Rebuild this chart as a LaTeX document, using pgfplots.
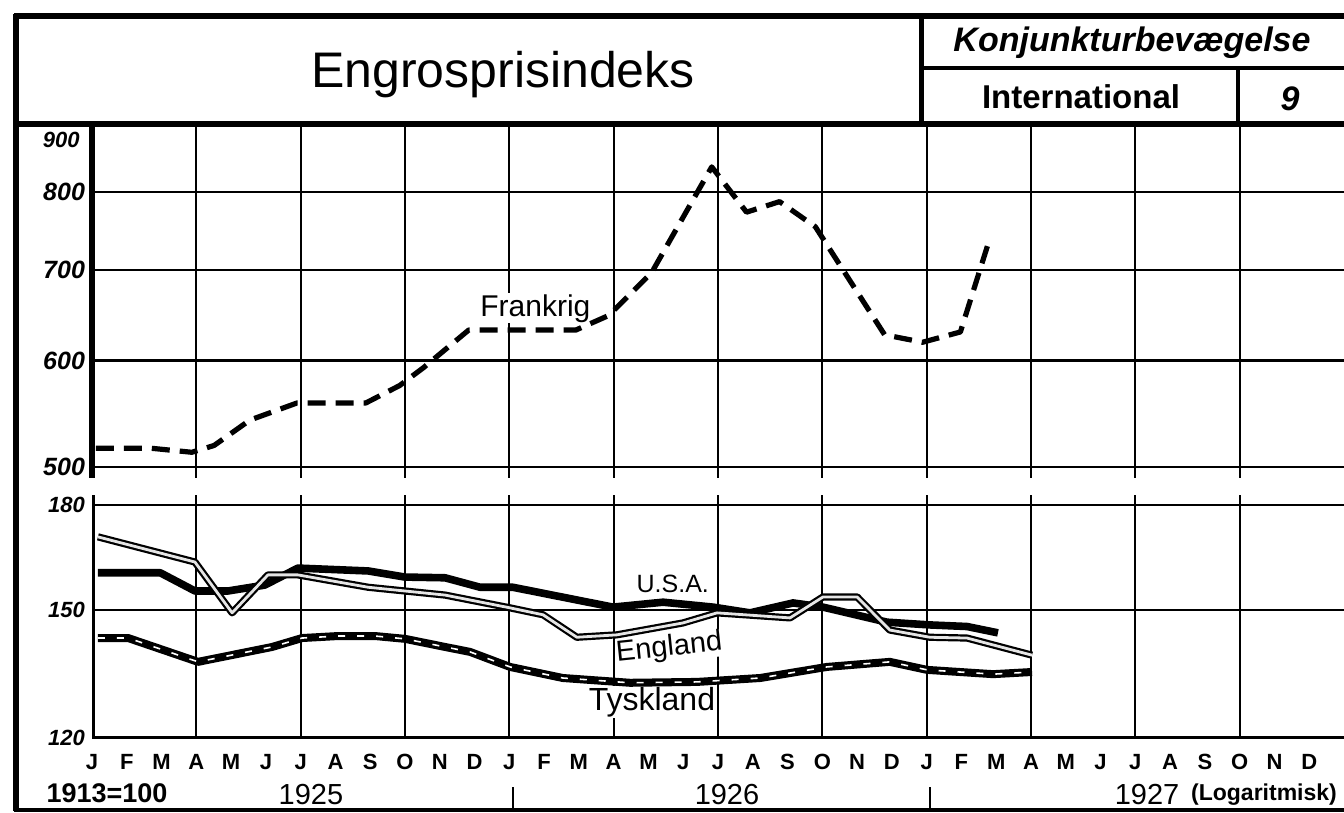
\documentclass[border=0pt]{standalone}
\usepackage{pgfplots}
\pgfplotsset{compat=1.18}
\usepackage{pgfplotstable}
\usepackage{fontspec}
\setmainfont{Liberation Sans}

\pgfplotstableread{
m v
0.11 516.5
1.72 516.5
2.87 513
3.51 519
4.54 542
5.89 558
7.87 558
8.85 575
9.54 593
10.83 632
13.91 632
14.86 648
16.09 697
17.82 835
18.82 773
19.77 787
20.80 754
22.79 627
23.88 619
24.97 630
25.83 741
}\frankrig

\pgfplotstableread{
m v
0.17 160
1.96 160
2.96 155
3.91 155
4.97 156.6
5.92 161.3
7.94 160.5
9.00 158.8
10.15 158.6
11.16 156
12.10 156
14.98 150.7
16.42 152
17.86 150.7
18.92 149.2
20.16 151.8
21.02 150.7
22.86 146.8
24.09 146.1
25.16 145.7
26.05 144.1
}\usa

\pgfplotstableread{
m v
0.17 170.3
2.96 163
4.03 149.2
5.06 159.4
5.92 159.4
7.94 156
10.15 153.9
12.02 150.5
12.97 148.7
13.94 143
15.09 143.6
16.99 146.6
17.97 149.2
20.07 147.9
21.02 153.4
22.00 153.4
22.94 144.8
24.09 143
25.16 142.8
27.03 138.6
}\england

\pgfplotstableread{
m v
0.17 142.8
1.04 142.8
3.05 137
5.18 140.6
6.04 142.8
7.07 143.3
8.14 143.3
9.00 142.6
10.15 140.6
10.87 139.4
12.02 135.8
13.54 133.2
15.47 132.1
17.40 132.3
19.21 133.2
21.13 135.8
22.94 137
24.01 135.1
25.91 134.1
27.03 134.6
}\tyskland

\begin{document}
\begin{tikzpicture}
\path[use as bounding box] (0,0) rectangle (672pt,-406.5pt);

\begin{scope}[x=0.5pt,y=-0.5pt]
  \draw[line width=3pt] (14,16) -- (1344,16);
  \draw[line width=2.6pt] (16,14) -- (16,811);
  \draw[line width=2pt] (14,810) -- (1344,810);
  \draw[line width=2.6pt] (14,124) -- (1344,124);
  \draw[line width=2.5pt] (921,16) -- (921,124);
  \draw[line width=2.2pt] (921,68) -- (1344,68);
  \draw[line width=2pt] (1238,68) -- (1238,124);
  \draw[line width=1pt] (513,787) -- (513,810);
  \draw[line width=1pt] (930,787) -- (930,810);
  \node[font=\fontsize{25}{25}\selectfont] at (503,75) {Engrosprisindeks};
  \node[font=\bfseries\itshape\fontsize{17}{17}\selectfont] at (1132,43) {Konjunkturbevægelse};
  \node[font=\bfseries\fontsize{16.5}{16.5}\selectfont] at (1081,97) {International};
  \node[font=\bfseries\itshape\fontsize{17}{17}\selectfont] at (1290,99) {9};
  \node[font=\bfseries\fontsize{13.5}{13.5}\selectfont] at (107,793) {1913=100};
  \node[font=\fontsize{14.5}{14.5}\selectfont] at (311,795) {1925};
  \node[font=\fontsize{14.5}{14.5}\selectfont] at (727,795) {1926};
  \node[font=\fontsize{14.5}{14.5}\selectfont] at (1147,795) {1927};
  \node[font=\bfseries\fontsize{11.5}{11.5}\selectfont] at (1264,795) {(Logaritmisk)};
\end{scope}

% top panel: Frankrig
\begin{axis}[at={(46pt,-61.5pt)}, anchor=north west,
  scale only axis, width=626pt, height=177.5pt,
  xmin=0, xmax=36, ymode=log, ymin=491, ymax=900,
  clip=false,
  axis line style={draw=none},
  major tick length=0pt, minor tick length=0pt,
  yminorticks=false, xminorticks=false,
  grid style={black, line width=1.1pt},
  ymajorgrids=true, xmajorgrids=true,
  ytick={500,600,700,800}, yticklabels={500,600,700,800},
  yticklabel style={font=\bfseries\itshape\fontsize{12.5}{12.5}\selectfont},
  xtick={3,6,...,33}, xticklabels={},
]
  \draw[line width=3pt] (rel axis cs:0,0) -- (rel axis cs:0,1);
  \node[anchor=east, inner sep=0pt, font=\bfseries\itshape\fontsize{11}{11}\selectfont]
    at ([xshift=-6pt,yshift=-8.5pt]rel axis cs:0,1) {900};
  \node[fill=white, inner sep=0.5pt, font=\fontsize{15}{15}\selectfont] at (axis cs:12.75,656) {Frankrig};
  \addplot[black, line width=2.6pt, dash pattern=on 9pt off 5pt, line join=round] table {\frankrig};
\end{axis}

% bottom panel
\begin{axis}[at={(46pt,-247.5pt)}, anchor=north west,
  scale only axis, width=626pt, height=121.5pt,
  xmin=0, xmax=36, ymode=log, ymin=120, ymax=183.2,
  axis line style={draw=none},
  major tick length=0pt, minor tick length=0pt,
  yminorticks=false, xminorticks=false,
  grid style={black, line width=1.1pt},
  ymajorgrids=true, xmajorgrids=false,
  ytick={120,150,180}, yticklabels={120,150,180},
  yticklabel style={font=\bfseries\itshape\fontsize{11}{11}\selectfont},
  xtick={0,...,35},
  xticklabels={J,F,M,A,M,J,J,A,S,O,N,D,J,F,M,A,M,J,J,A,S,O,N,D,J,F,M,A,M,J,J,A,S,O,N,D},
  xticklabel style={font=\bfseries\fontsize{11}{11}\selectfont, anchor=center, yshift=-12pt},
  extra x ticks={3,6,...,33}, extra x tick labels={},
  extra x tick style={xmajorgrids=true},
]
  \draw[line width=3pt] (rel axis cs:0,0) -- (rel axis cs:0,1);
  \draw[line width=2pt] (rel axis cs:0,0) -- (rel axis cs:1,0);
  \node[fill=white, inner sep=0.5pt, font=\fontsize{12.5}{12.5}\selectfont] at (axis cs:16.7,156.8) {U.S.A.};
  \node[fill=white, inner sep=0pt, rotate=6, font=\fontsize{14.5}{14.5}\selectfont] at (axis cs:16.6,140.3) {England};
  \node[fill=white, inner sep=0.5pt, font=\fontsize{16}{16}\selectfont] at (axis cs:16.1,127.8) {Tyskland};
  \addplot[black, line width=3.8pt, line join=round] table {\usa};
  \addplot[black, line width=4pt, line join=round] table {\tyskland};
  \addplot[white, line width=0.8pt, dash pattern=on 3.5pt off 6pt] table {\tyskland};
  \addplot[black, line width=1.1pt, double=gray!20, double distance=1.4pt, line join=round] table {\england};
\end{axis}
\end{tikzpicture}
\end{document}
